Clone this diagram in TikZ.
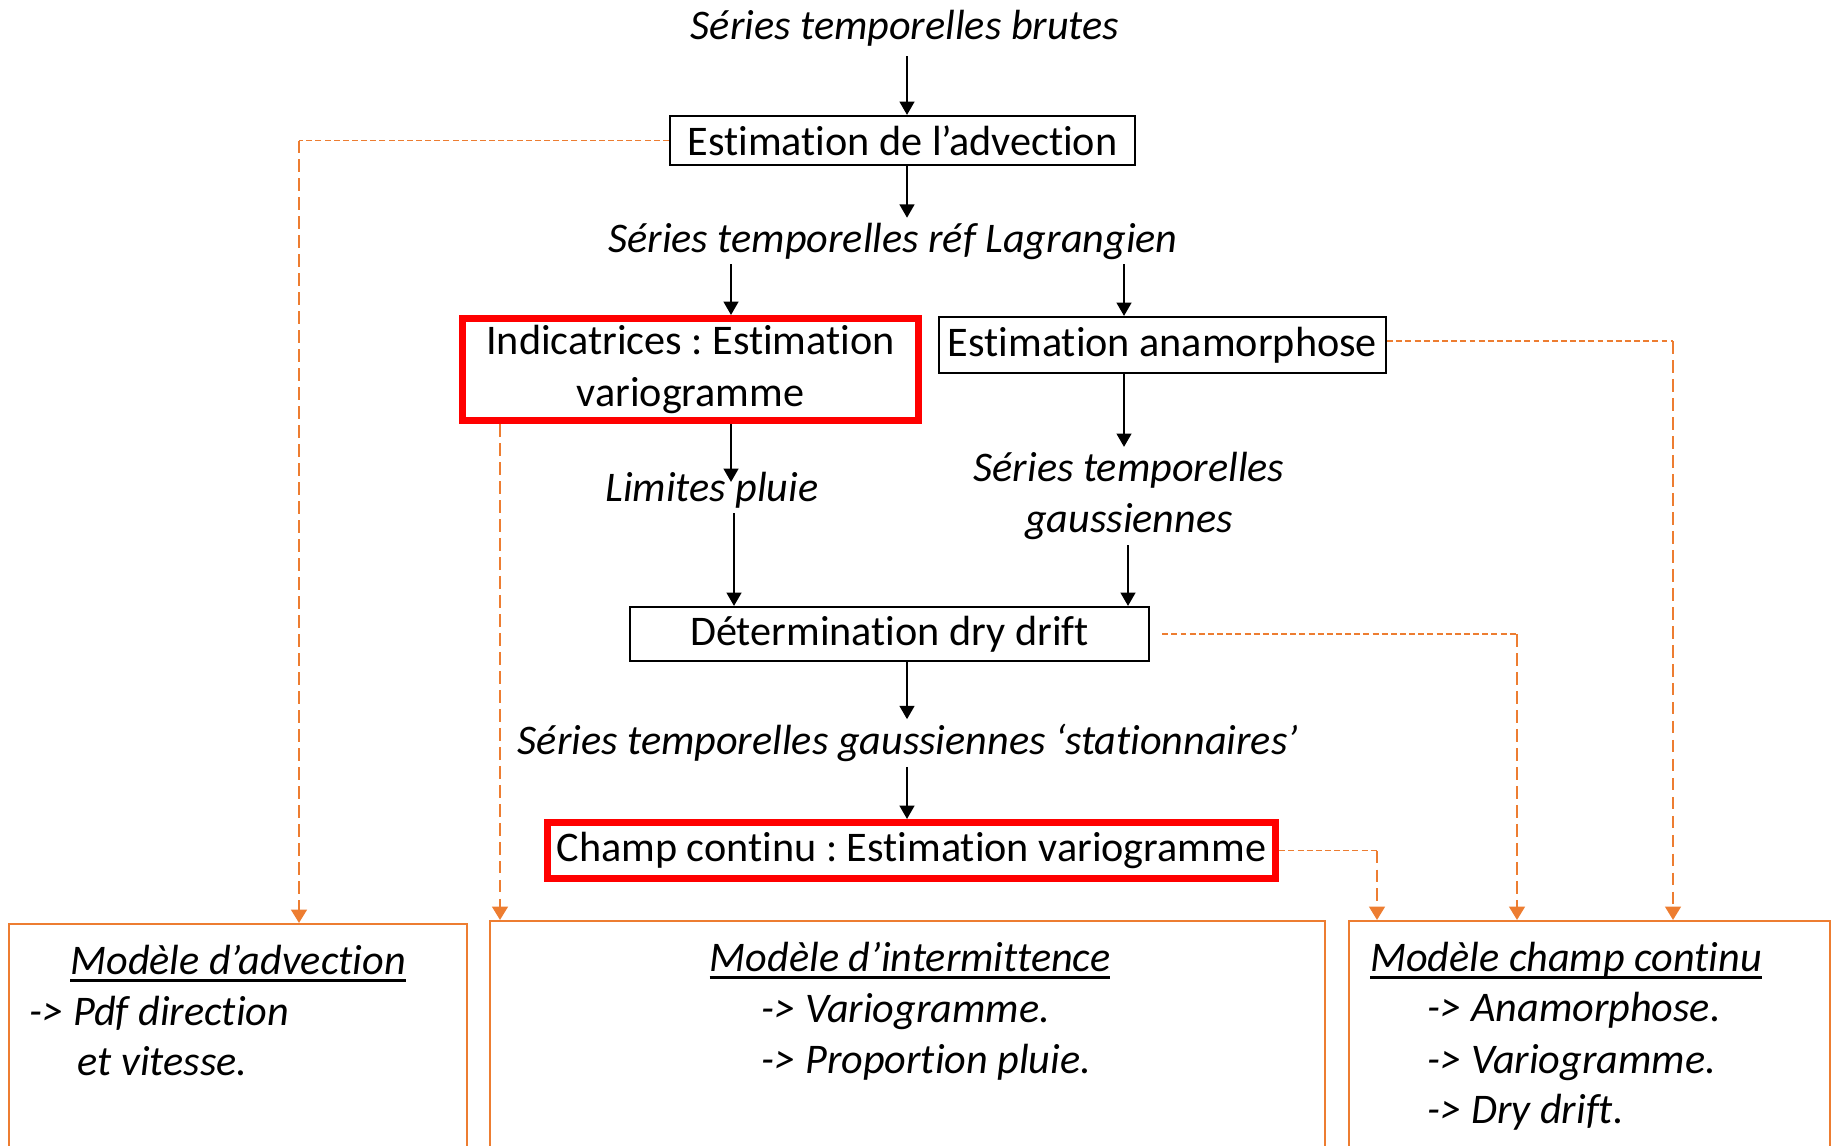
\documentclass[tikz,border=0pt]{standalone}
\usepackage{fontspec}
\setmainfont{Carlito}[Ligatures={TeX,NoCommon}]
\usetikzlibrary{arrows.meta,positioning,calc}
\definecolor{modorange}{RGB}{237,125,49}
\definecolor{boxred}{RGB}{255,0,0}
\newcommand{\souligne}[1]{\setbox0\hbox{#1}\rlap{\rule[-2.3pt]{\wd0}{0.8pt}}\box0}
\frenchspacing

\begin{document}
\begin{tikzpicture}[x=0.01cm,y=-0.01cm,
  every node/.style={inner sep=0pt,font=\fontsize{12}{14.7}\selectfont},
  serie/.style={font=\fontsize{12}{14.7}\selectfont\itshape,align=center,outer sep=0.05cm},
  stepbox/.style={draw,line width=0.6pt},
  redbox/.style={draw=boxred,line width=2pt,align=center},
  modbox/.style={draw=modorange,line width=0.6pt,anchor=north,minimum height=3cm},
  modtxt/.style={font=\fontsize{12}{14.7}\selectfont\itshape},
  arr/.style={-{Triangle[width=4.2pt,length=3.8pt]},line width=0.6pt},
  lienh/.style={modorange,line width=0.4pt,dash pattern=on 1.7pt off 0.9pt},
  lienv/.style={modorange,line width=0.8pt,dash pattern=on 3.6pt off 1.8pt,-{Triangle[width=4.4pt,length=3.8pt]}}]
\useasboundingbox (0,0) rectangle (1831,1145);
\clip (0,0) rectangle (1831,1145);

% main chain
\node[serie] (brutes) at (905,28) {Séries temporelles brutes};
\node[stepbox,minimum width=4.65cm,minimum height=0.49cm] (adv) at (902.5,140.5) {Estimation de l’advection};
\node[serie] (lagr) at (893,241) {Séries temporelles réf Lagrangien};
\node[redbox,minimum width=4.56cm,minimum height=1.02cm] (indic) at (690.5,369.5) {Indicatrices : Estimation\\variogramme};
\node[stepbox,minimum width=4.47cm,minimum height=0.56cm] (anam) at (1162.5,345) {Estimation anamorphose};
\node[serie] (limites) at (712,490) {Limites pluie};
\node[serie] (gauss) at (1129,496) {Séries temporelles\\gaussiennes};
\node[stepbox,minimum width=5.19cm,minimum height=0.54cm] (drift) at (889.5,634) {Détermination dry drift};
\node[serie] (stat) at (908,743) {Séries temporelles gaussiennes ‘stationnaires’};
\node[redbox,minimum width=7.28cm,minimum height=0.56cm] (champ) at (911.5,850.5) {Champ continu : Estimation variogramme};

% model boxes (cut by the bottom edge)
\node[modbox,minimum width=4.58cm] (madv) at (238,923) {};
\node[modbox,minimum width=8.35cm] (mint) at (907.5,920) {};
\node[modbox,minimum width=4.81cm] (mcont) at (1589.5,920) {};
\node[modtxt,anchor=base] (tadv) at (238,974) {\souligne{Modèle d’advection}};
\node[modtxt,anchor=base west] (tadv1) at (29,1025) {-> Pdf direction};
\node[modtxt,anchor=base west] (tadv2) at (77,1075) {et vitesse.};
\node[modtxt,anchor=base] (tint) at (910,971) {\souligne{Modèle d’intermittence}};
\node[modtxt,anchor=base west] (tint1) at (761,1022) {-> Variogramme.};
\node[modtxt,anchor=base west] (tint2) at (761,1073) {-> Proportion pluie.};
\node[modtxt,anchor=base] (tcont) at (1566,971) {\souligne{Modèle champ continu}};
\node[modtxt,anchor=base west] (tcont1) at (1427,1021) {-> Anamorphose.};
\node[modtxt,anchor=base west] (tcont2) at (1427,1073) {-> Variogramme.};
\node[modtxt,anchor=base west] (tcont3) at (1427,1123) {-> Dry drift.};

% columns for the arrows
\coordinate (colm) at (907,0);
\coordinate (colg) at (731,0);
\coordinate (cold) at (1124,0);
\draw[arr,shorten <=0.05cm] (brutes.south -| colm) -- (adv.north -| colm);
\draw[arr] (adv.south -| colm) -- (lagr.north -| colm);
\draw[arr] (lagr.south -| colg) -- (indic.north -| colg);
\draw[arr] (lagr.south -| cold) -- (anam.north -| cold);
\draw[arr,shorten >=-0.15cm] (indic.south -| colg) -- (limites.north -| colg);
\draw[arr] (limites.south -| colg) ++(3,0) -- (drift.north -| 734,0);
\draw[arr] (anam.south -| cold) -- (gauss.north -| cold);
\draw[arr] (gauss.south -| 1128,0) -- (drift.north -| 1128,0);
\draw[arr] (drift.south -| colm) -- (stat.north -| colm);
\draw[arr] (stat.south -| colm) -- (champ.north -| colm);

% dashed links to the models
\coordinate (kadv) at (299,0);
\coordinate (kind) at (500,0);
\coordinate (kchamp) at (1377,0);
\coordinate (kdrift) at (1517,0);
\coordinate (kanam) at (1673,341);
\draw[lienh] (adv.west) -- (adv.west -| kadv);
\draw[lienv] (adv.west -| kadv) -- (kadv |- madv.north);
\draw[lienv] (indic.south -| kind) -- (kind |- mint.north);
\draw[lienh] (champ.east) -- (champ.east -| kchamp);
\draw[lienv] (champ.east -| kchamp) -- (kchamp |- mcont.north);
\draw[lienh,shorten <=0.12cm] (drift.east) -- (drift.east -| kdrift);
\draw[lienv] (drift.east -| kdrift) -- (kdrift |- mcont.north);
\draw[lienh] (anam.east |- kanam) -- (kanam);
\draw[lienv] (kanam) -- (kanam |- mcont.north);
\end{tikzpicture}
\end{document}
